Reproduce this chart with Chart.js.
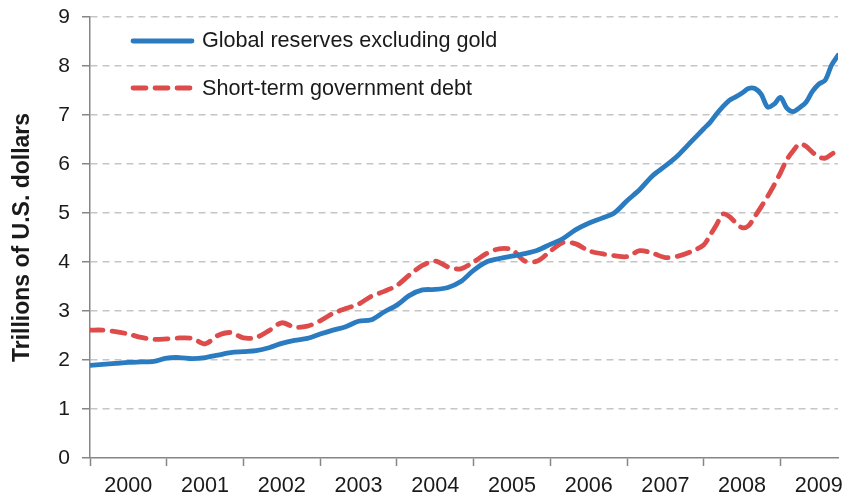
<!DOCTYPE html>
<html><head><meta charset="utf-8">
<script src="https://cdn.jsdelivr.net/npm/chart.js@4/dist/chart.umd.min.js"></script>
<style>html,body{margin:0;padding:0;background:#fff}#wrap{width:848px;height:496px}</style>
</head><body><div id="wrap"><canvas id="c" width="848" height="496"></canvas></div>
<script>
// Observation dates (bimonthly to 2007, monthly 2008-2009)
const dates = [
  '2000-01','2000-03','2000-05','2000-07','2000-09','2000-11',
  '2001-01','2001-03','2001-05','2001-07','2001-09','2001-11',
  '2002-01','2002-03','2002-05','2002-07','2002-09','2002-11',
  '2003-01','2003-03','2003-05','2003-07','2003-09','2003-11',
  '2004-01','2004-03','2004-05','2004-07','2004-09','2004-11',
  '2005-01','2005-03','2005-05','2005-07','2005-09','2005-11',
  '2006-01','2006-03','2006-05','2006-07','2006-09','2006-11',
  '2007-01','2007-03','2007-05','2007-07','2007-09','2007-11',
  '2008-01','2008-02','2008-03','2008-04','2008-05','2008-06','2008-07','2008-08','2008-09','2008-10','2008-11','2008-12',
  '2009-01','2009-02','2009-03','2009-04','2009-05','2009-06','2009-07','2009-08','2009-09','2009-10'
];
const yearLabels = ['2000','2001','2002','2003','2004','2005','2006','2007','2008','2009'];
// Trillions of U.S. dollars
const globalReserves = [
  1.89,1.91,1.93,1.95,1.96,1.97,
  2.04,2.05,2.03,2.05,2.10,2.15,
  2.17,2.19,2.25,2.34,2.40,2.44,
  2.53,2.61,2.68,2.79,2.82,2.98,
  3.12,3.32,3.43,3.44,3.48,3.60,
  3.83,4.00,4.07,4.12,4.17,4.24,
  4.36,4.48,4.66,4.79,4.89,5.00,
  5.25,5.48,5.76,5.96,6.18,6.45,
  6.72,6.85,7.02,7.17,7.30,7.37,7.45,7.54,7.54,7.42,7.16,7.22,
  7.36,7.14,7.07,7.15,7.26,7.48,7.63,7.71,8.02,8.22
];
const shortTermDebt = [
  2.61,2.61,2.58,2.53,2.46,2.42,
  2.43,2.45,2.44,2.33,2.50,2.56,
  2.45,2.46,2.60,2.76,2.67,2.69,
  2.80,2.95,3.05,3.14,3.30,3.40,
  3.52,3.74,3.93,4.02,3.90,3.86,
  4.00,4.17,4.27,4.25,4.02,4.02,
  4.22,4.40,4.37,4.23,4.17,4.13,
  4.11,4.23,4.18,4.09,4.12,4.21,
  4.35,4.55,4.76,4.98,4.93,4.80,4.70,4.74,4.93,5.13,5.34,5.57,
  5.82,6.09,6.27,6.41,6.36,6.24,6.14,6.12,6.20,6.28
];
const yTickValues = [0,1,2,3,4,5,6,7,8,9];

const baseYear = parseInt(yearLabels[0], 10);
const monthIndex = d => {
  const [y, m] = d.split('-').map(Number);
  return (y - baseYear) * 12 + (m - 1);
};
const toPoints = vals => vals.map((v, i) => ({ x: monthIndex(dates[i]), y: v }));
const lastX = monthIndex(dates[dates.length - 1]);

const FONT = '"Liberation Sans", Arial, sans-serif';
const TEXT = '#1a1a1a';
const AXIS = '#868686';

const inlineLegend = {
  id: 'inlineLegend',
  afterDraw(chart) {
    const { ctx, chartArea } = chart;
    chart.data.datasets.forEach((ds, i) => {
      const ly = chartArea.top + 24 + i * 47;
      const ty = chartArea.top + 30 + i * 48;
      const x0 = chartArea.left + 41, x1 = chartArea.left + 104;
      ctx.save();
      ctx.strokeStyle = ds.borderColor;
      ctx.lineWidth = ds.borderWidth;
      ctx.lineCap = 'round';
      ctx.setLineDash(ds.borderDash || []);
      ctx.beginPath();
      ctx.moveTo(x0 + 2, ly);
      ctx.lineTo(x1 - 2, ly);
      ctx.stroke();
      ctx.setLineDash([]);
      ctx.fillStyle = TEXT;
      ctx.font = '21.6px ' + FONT;
      ctx.textBaseline = 'alphabetic';
      ctx.textAlign = 'left';
      ctx.fillText(ds.label, chartArea.left + 112, ty);
      ctx.restore();
    });
  }
};

new Chart(document.getElementById('c'), {
  type: 'line',
  data: {
    datasets: [
      {
        label: 'Global reserves excluding gold',
        data: toPoints(globalReserves),
        borderColor: '#2B7BC0',
        borderWidth: 4.8,
        pointRadius: 0,
        tension: 0.3,
        borderCapStyle: 'round',
        borderJoinStyle: 'round',
        order: 1
      },
      {
        label: 'Short-term government debt',
        data: toPoints(shortTermDebt),
        borderColor: '#DD4B4B',
        borderWidth: 4.8,
        borderDash: [13, 9],
        borderCapStyle: 'round',
        pointRadius: 0,
        tension: 0.3,
        order: 2
      }
    ]
  },
  options: {
    responsive: false,
    animation: false,
    devicePixelRatio: 1,
    layout: { padding: { left: 0, top: 17, right: 10, bottom: 0 } },
    plugins: { legend: { display: false }, tooltip: { enabled: false } },
    scales: {
      x: {
        type: 'linear',
        min: 0,
        max: lastX,
        afterBuildTicks: scale => {
          const t = [];
          yearLabels.forEach((_, i) => { t.push({ value: i * 12 }); t.push({ value: i * 12 + 6 }); });
          scale.ticks = t;
        },
        afterFit: scale => {
          scale.height = 38;
          scale.paddingLeft = 0; scale.paddingRight = 0;
          scale.paddingTop = 0; scale.paddingBottom = 0;
        },
        ticks: {
          autoSkip: false,
          maxRotation: 0,
          padding: 7,
          color: TEXT,
          font: { family: FONT, size: 21.6 },
          callback: v => (v % 12 === 6 ? yearLabels[(v - 6) / 12] : '')
        },
        grid: {
          drawOnChartArea: false,
          drawTicks: true,
          tickLength: 8,
          tickWidth: 1.5,
          tickColor: ctx => (ctx.tick && ctx.tick.value % 12 === 0 ? AXIS : 'rgba(0,0,0,0)')
        },
        border: { color: AXIS, width: 1.5 }
      },
      y: {
        min: 0,
        max: 9,
        afterBuildTicks: scale => { scale.ticks = yTickValues.map(v => ({ value: v })); },
        afterFit: scale => {
          scale.width = 90;
          scale.paddingTop = 0; scale.paddingBottom = 0;
          scale.paddingLeft = 0; scale.paddingRight = 0;
        },
        ticks: {
          padding: 12,
          color: TEXT,
          font: { family: FONT, size: 21 }
        },
        title: {
          display: true,
          text: 'Trillions of U.S. dollars',
          color: TEXT,
          font: { family: FONT, size: 23, weight: 'bold' },
          padding: { top: 9, bottom: 0 }
        },
        grid: {
          color: ctx => (ctx.tick && ctx.tick.value === 0 ? 'rgba(0,0,0,0)' : '#C6C6C6'),
          lineWidth: 1.5,
          tickLength: 8,
          tickWidth: 1.5,
          tickColor: AXIS,
          tickBorderDash: []
        },
        border: { color: AXIS, width: 1.5, dash: [7, 5] }
      }
    }
  },
  plugins: [inlineLegend]
});
</script>
</body></html>
